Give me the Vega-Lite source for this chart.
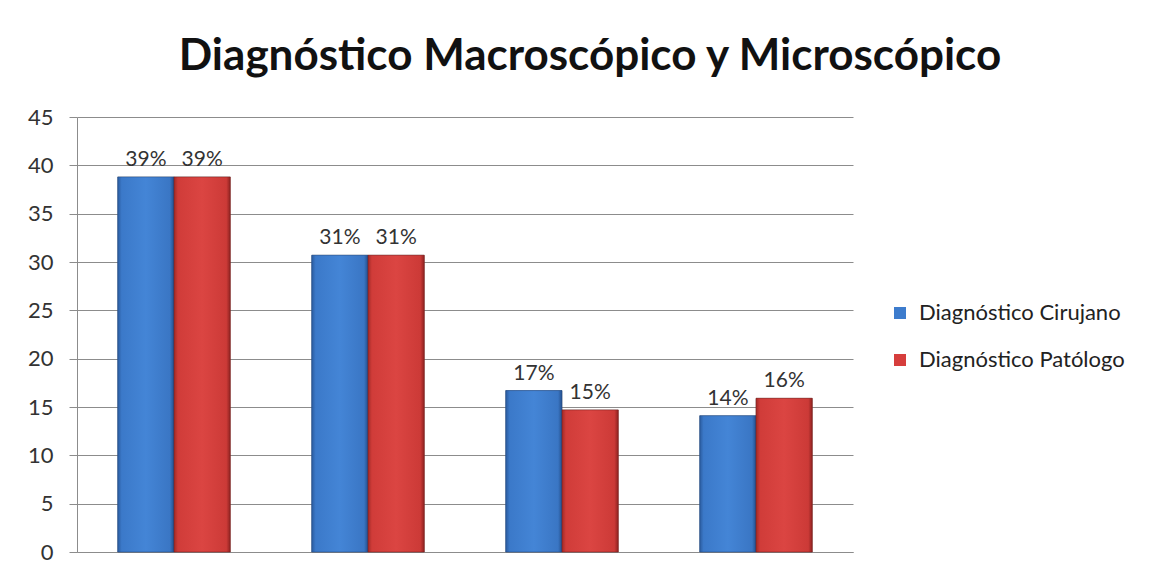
{
  "$schema": "https://vega.github.io/schema/vega-lite/v6.json",
  "width": 776,
  "height": 435,
  "autosize": "none",
  "padding": {"left": 77, "top": 117, "right": 315, "bottom": 27},
  "background": "white",
  "config": {
    "font": "Lato",
    "view": {"stroke": null}
  },
  "title": {
    "text": "Diagnóstico Macroscópico y Microscópico",
    "fontSize": 44,
    "fontWeight": "bold",
    "font": "Lato",
    "color": "#111111",
    "anchor": "middle",
    "dx": 125,
    "offset": 27
  },
  "data": {
    "values": [
      {"grupo": "1", "serie": "Diagnóstico Cirujano", "valor": 38.8, "etiqueta": "39%"},
      {"grupo": "1", "serie": "Diagnóstico Patólogo", "valor": 38.8, "etiqueta": "39%"},
      {"grupo": "2", "serie": "Diagnóstico Cirujano", "valor": 30.7, "etiqueta": "31%"},
      {"grupo": "2", "serie": "Diagnóstico Patólogo", "valor": 30.7, "etiqueta": "31%"},
      {"grupo": "3", "serie": "Diagnóstico Cirujano", "valor": 16.7, "etiqueta": "17%"},
      {"grupo": "3", "serie": "Diagnóstico Patólogo", "valor": 14.7, "etiqueta": "15%"},
      {"grupo": "4", "serie": "Diagnóstico Cirujano", "valor": 14.1, "etiqueta": "14%"},
      {"grupo": "4", "serie": "Diagnóstico Patólogo", "valor": 15.9, "etiqueta": "16%"}
    ]
  },
  "encoding": {
    "x": {
      "field": "grupo",
      "type": "nominal",
      "scale": {"paddingInner": 0.42, "paddingOuter": 0.21},
      "axis": {"labels": false, "ticks": false, "title": null, "domainColor": "#8c8c8c", "domainWidth": 1}
    },
    "xOffset": {"field": "serie", "type": "nominal", "scale": {"domain": ["Diagnóstico Cirujano", "Diagnóstico Patólogo"], "paddingInner": 0}},
    "y": {
      "field": "valor",
      "type": "quantitative",
      "scale": {"domain": [0, 45], "nice": false},
      "axis": {
        "values": [0, 5, 10, 15, 20, 25, 30, 35, 40, 45],
        "title": null,
        "labelFontSize": 22,
        "labelColor": "#333333",
        "labelPadding": 16,
        "tickSize": 8,
        "tickColor": "#8c8c8c",
        "domainColor": "#8c8c8c",
        "gridColor": "#8c8c8c",
        "gridWidth": 1
      }
    }
  },
  "layer": [
    {
      "mark": {"type": "bar", "stroke": "#4a4a4a", "strokeOpacity": 0.35, "strokeWidth": 1},
      "encoding": {
        "color": {
          "field": "serie",
          "type": "nominal",
          "scale": {"domain": ["Diagnóstico Cirujano", "Diagnóstico Patólogo"], "range": ["#3d7ccd", "#d63e3c"]},
          "legend": {
            "title": null,
            "orient": "none",
            "legendX": 812,
            "legendY": 185,
            "symbolType": "square",
            "symbolSize": 144,
            "symbolStrokeWidth": 0,
            "labelFontSize": 22,
            "labelColor": "#222222",
            "labelLimit": 400,
            "rowPadding": 25,
            "labelOffset": 8
          }
        }
      }
    },
    {
      "transform": [{"filter": "datum.serie === 'Diagnóstico Cirujano'"}],
      "mark": {
        "type": "bar",
        "stroke": "#1f4a85",
        "strokeOpacity": 0.5,
        "strokeWidth": 1,
        "fill": {
          "gradient": "linear", "x1": 0, "y1": 0, "x2": 1, "y2": 0,
          "stops": [
            {"offset": 0, "color": "#2b5c9f"},
            {"offset": 0.07, "color": "#3b79c9"},
            {"offset": 0.5, "color": "#4485d6"},
            {"offset": 0.93, "color": "#3a76c4"},
            {"offset": 1, "color": "#244f8c"}
          ]
        }
      }
    },
    {
      "transform": [{"filter": "datum.serie === 'Diagnóstico Patólogo'"}],
      "mark": {
        "type": "bar",
        "stroke": "#7a1d1b",
        "strokeOpacity": 0.5,
        "strokeWidth": 1,
        "fill": {
          "gradient": "linear", "x1": 0, "y1": 0, "x2": 1, "y2": 0,
          "stops": [
            {"offset": 0, "color": "#a12a27"},
            {"offset": 0.07, "color": "#d03c39"},
            {"offset": 0.5, "color": "#db4542"},
            {"offset": 0.93, "color": "#cc3a37"},
            {"offset": 1, "color": "#8f2321"}
          ]
        }
      }
    },
    {
      "mark": {"type": "text", "baseline": "bottom", "dy": -7, "fontSize": 21, "color": "#333333"},
      "encoding": {"text": {"field": "etiqueta"}}
    }
  ]
}
